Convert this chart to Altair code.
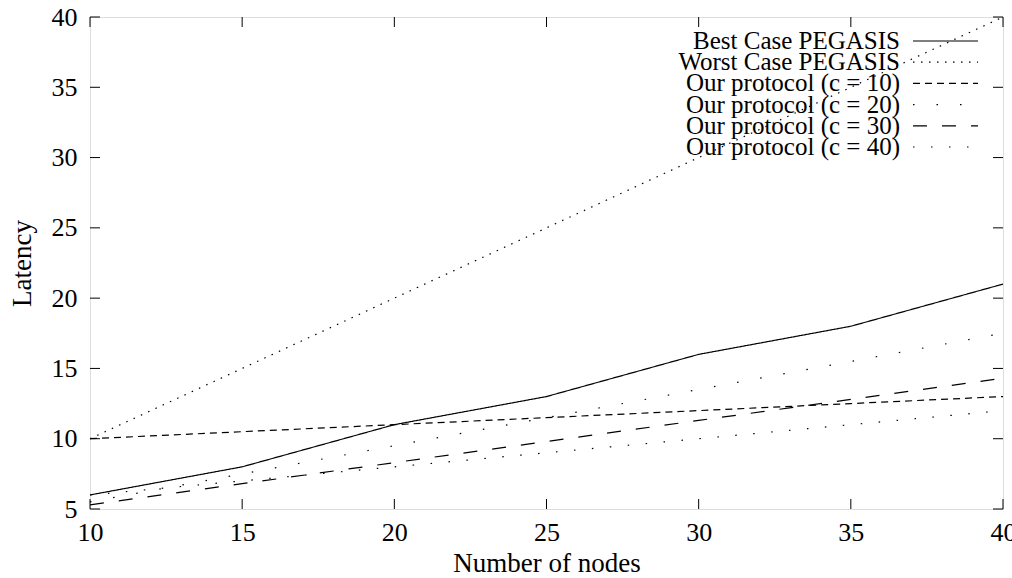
import altair as alt
import pandas as pd

nodes = [10, 15, 20, 25, 30, 35, 40]
best = [6, 8, 11, 13, 16, 18, 21]
worst = [10, 15, 20, 25, 30, 35, 40]
c10 = [10, 10.5, 11, 11.5, 12, 12.5, 13]
c20 = [5.5, 7.5, 9.5, 11.5, 13.5, 15.5, 17.5]
c30 = [5.3, 6.8, 8.3, 9.8, 11.3, 12.8, 14.3]
c40 = [6, 7, 8, 9, 10, 11, 12]

names = ["Best Case PEGASIS", "Worst Case PEGASIS", "Our protocol (c = 10)",
         "Our protocol (c = 20)", "Our protocol (c = 30)", "Our protocol (c = 40)"]
series = [best, worst, c10, c20, c30, c40]
dashes = [[1, 0], [1.5, 6.5], [7, 5], [1.5, 22], [14, 15], [1.5, 16.5]]

x_ticks = [10, 15, 20, 25, 30, 35, 40]
y_ticks = [5, 10, 15, 20, 25, 30, 35, 40]

W, H = 913, 492
FONT = "Liberation Serif"

xs = alt.Scale(domain=[10, 40], nice=False, zero=False)
ys = alt.Scale(domain=[5, 40], nice=False, zero=False)

layers = []
for i, (name, vals, dash) in enumerate(zip(names, series, dashes)):
    df = pd.DataFrame({"nodes": nodes, "latency": vals})
    enc = dict(
        x=alt.X("nodes:Q", scale=xs,
                axis=alt.Axis(values=x_ticks, ticks=False, domain=False, grid=False,
                              labelFlush=False, labelOverlap=False,
                              labelFont=FONT, labelFontSize=26, labelPadding=10,
                              labelColor="black", title="Number of nodes",
                              titleFont=FONT, titleFontSize=27, titleFontWeight="normal",
                              titleColor="black", titlePadding=5)),
        y=alt.Y("latency:Q", scale=ys,
                axis=alt.Axis(values=y_ticks, ticks=False, domain=False, grid=False,
                              labelFlush=False, labelOverlap=False,
                              labelFont=FONT, labelFontSize=26, labelPadding=13,
                              labelColor="black", title="Latency",
                              titleFont=FONT, titleFontSize=27, titleFontWeight="normal",
                              titleColor="black", titlePadding=15)),
    )
    layers.append(alt.Chart(df).mark_line(color="black", strokeWidth=1.2,
                                          strokeDash=dash, clip=True).encode(**enc))

# inward ticks on all four sides
xt = pd.DataFrame({"v": x_ticks})
yt = pd.DataFrame({"v": y_ticks})
tick_style = dict(color="black", strokeWidth=1)
layers.append(alt.Chart(xt).mark_rule(**tick_style).encode(
    x=alt.X("v:Q", scale=xs), y=alt.value(H), y2=alt.value(H - 10)))
layers.append(alt.Chart(xt).mark_rule(**tick_style).encode(
    x=alt.X("v:Q", scale=xs), y=alt.value(0), y2=alt.value(10)))
layers.append(alt.Chart(yt).mark_rule(**tick_style).encode(
    y=alt.Y("v:Q", scale=ys), x=alt.value(0), x2=alt.value(10)))
layers.append(alt.Chart(yt).mark_rule(**tick_style).encode(
    y=alt.Y("v:Q", scale=ys), x=alt.value(W), x2=alt.value(W - 10)))

# legend (inside, top right)
one = pd.DataFrame({"a": [0]})
row0 = 24
step = 21.2
for i, (name, dash) in enumerate(zip(names, dashes)):
    yy = row0 + i * step
    layers.append(alt.Chart(one).mark_text(align="right", baseline="middle", font=FONT,
                                           fontSize=25, color="black").encode(
        x=alt.value(810), y=alt.value(yy), text=alt.value(name)))
    layers.append(alt.Chart(one).mark_rule(color="black", strokeWidth=1.2,
                                           strokeDash=dash).encode(
        x=alt.value(823), x2=alt.value(888), y=alt.value(yy)))

chart = alt.layer(*layers).properties(
    width=W, height=H,
    autosize=alt.AutoSizeParams(type="none"),
    padding={"left": 90, "top": 17, "right": 9, "bottom": 69},
).configure_view(stroke="black", strokeWidth=1).configure(background="white")

chart.save("out.html", embed_options={"renderer": "svg", "actions": False})
